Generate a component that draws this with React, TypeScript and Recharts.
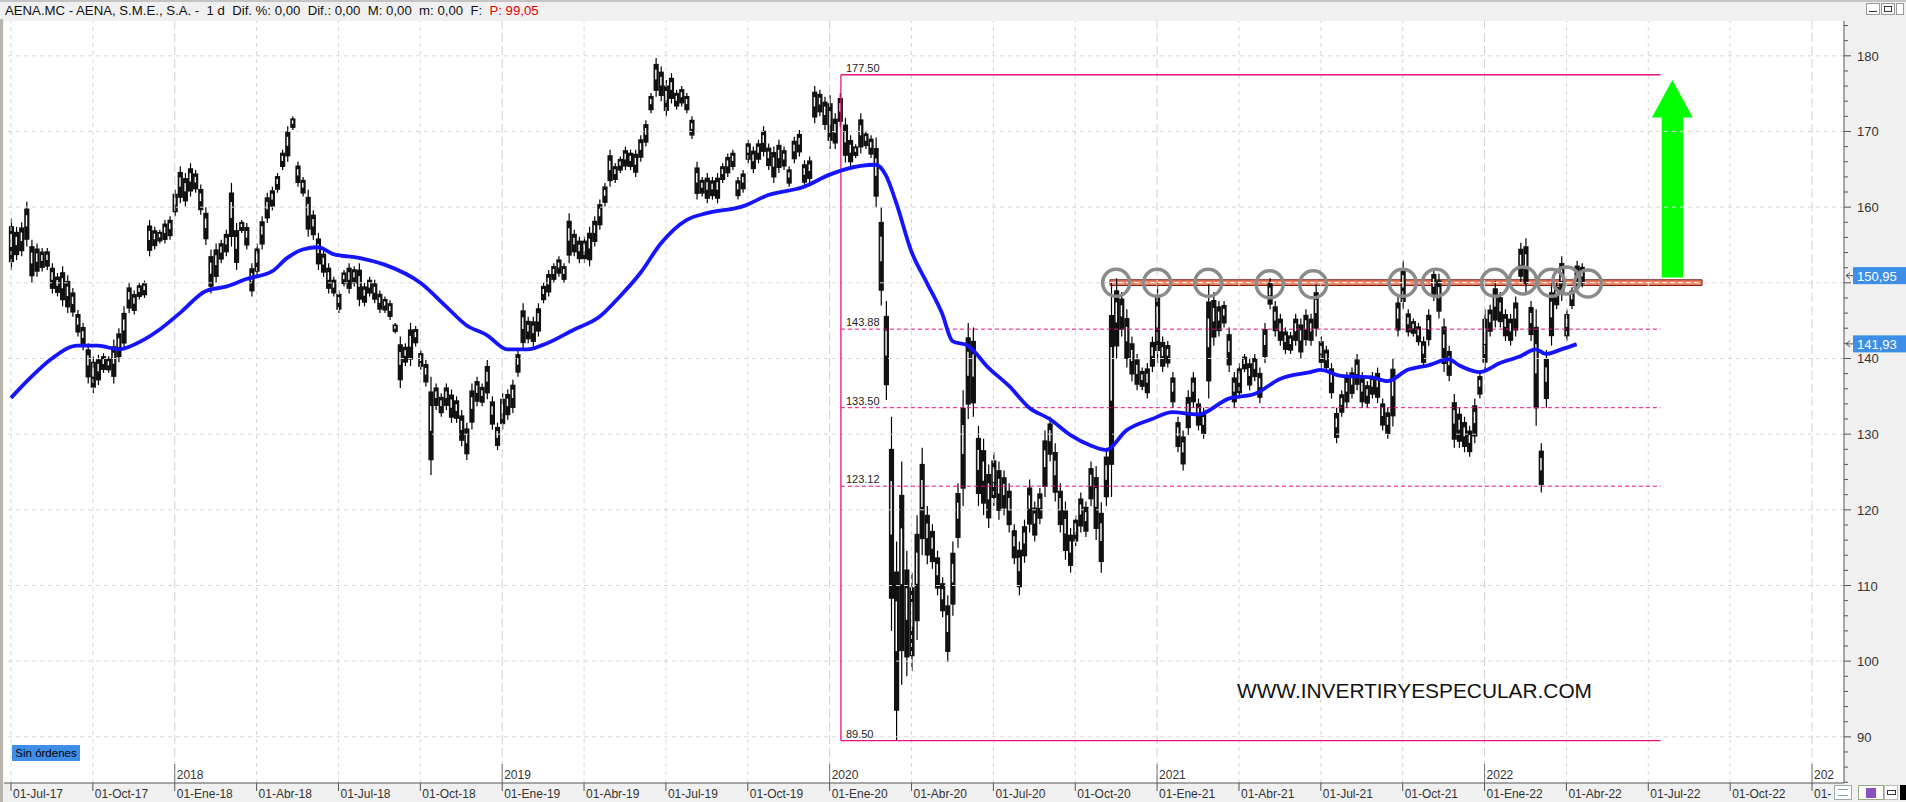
import React from 'react'
import {
  ComposedChart,
  Bar,
  Line,
  XAxis,
  YAxis,
  CartesianGrid,
  ReferenceLine,
  ReferenceArea,
  ReferenceDot,
} from 'recharts'

// one row = 4 sessions, 16 rows per quarter, row 0 = 01-Jul-17
const quarterTicks = [0, 16, 32, 48, 64, 80, 96, 112, 128, 144, 160, 176, 192, 208, 224, 240, 256, 272, 288, 304, 320, 336, 352]
const quarterLabels = [
  '01-Jul-17', '01-Oct-17', '01-Ene-18', '01-Abr-18', '01-Jul-18', '01-Oct-18', '01-Ene-19', '01-Abr-19',
  '01-Jul-19', '01-Oct-19', '01-Ene-20', '01-Abr-20', '01-Jul-20', '01-Oct-20', '01-Ene-21', '01-Abr-21',
  '01-Jul-21', '01-Oct-21', '01-Ene-22', '01-Abr-22', '01-Jul-22', '01-Oct-22', '01-',
]
const yearTicks = [32, 96, 160, 224, 288, 352]
const yearLabels = ['2018', '2019', '2020', '2021', '2022', '202']
// 150 sits under the last-price tag and is not visible
const priceLabels = [90, 100, 110, 120, 130, 140, 160, 170, 180]

// highs / lows per row, one line per quarter
const highs = [
  158.5, 157.4, 158, 160.7, 155.7, 155.2, 154.6, 154.6, 152.6, 151.3, 152.2, 151, 149.3, 146.4, 144.7, 142,
  140.3, 140.5, 140.7, 140.3, 142.5, 144, 146.9, 150, 149, 150, 150.3, 158.3, 157.4, 157, 158.3, 158.8,
  162.3, 165.4, 164.5, 165.8, 164.9, 163, 160, 154.4, 155.2, 155.7, 157, 163.2, 157.9, 158.3, 157.9, 152.6,
  155.2, 158.8, 161.9, 162.7, 164.5, 167.6, 170.7, 172, 166, 164, 162.3, 159.6, 156.6, 154.4, 152.6, 150.8,
  149, 151.7, 152.6, 152.2, 152.6, 150, 150.8, 150.4, 149, 148.2, 147.7, 144.7, 142.9, 142, 144.7, 144.3,
  141.1, 139.8, 137.6, 136.7, 135.4, 136.7, 135.9, 135, 133.2, 131.5, 136.7, 137.6, 136.7, 139.8, 135, 131.5,
  135.4, 135.9, 137.2, 141.1, 147.3, 145.5, 145.5, 147.3, 150, 151.7, 152.6, 153.5, 152.6, 159.2, 157, 156.1,
  156.1, 157.4, 158.8, 161, 163.2, 167.6, 165.8, 166.7, 168, 167.6, 167.6, 169.5, 171.5, 175.1, 179.7, 178.6,
  176.8, 177.7, 175.5, 176, 175.1, 172, 166, 164, 164.5, 164, 164.5, 165.8, 167.1, 167.6, 164, 164.9,
  168.9, 168, 168.9, 170.7, 168.4, 168, 168.9, 168, 165.4, 169.3, 170.2, 166.2, 166.7, 176, 175.5, 174.6,
  174.8, 172.4, 175.1, 171.8, 169.5, 168.3, 172.4, 170.1, 169.5, 169.2, 160, 147.6, 132.3, 115.8, 126.4, 114.6,
  111.7, 119.3, 128.2, 120.5, 118.1, 114.6, 111.1, 108.7, 115.8, 123.5, 135.8, 144.7, 144.1, 131.1, 129.4, 126,
  127.6, 126.4, 125.2, 123.5, 118.1, 115.8, 118.7, 124, 121.1, 122.9, 130.5, 132.3, 128.8, 123.5, 121.1, 117.6,
  119.3, 122.3, 121.1, 126.4, 125.8, 121, 128.2, 150, 150.6, 148.8, 146.5, 142.9, 140.6, 138.8, 139.4, 142.9,
  150, 142.9, 142.3, 138.2, 132.3, 130.5, 135.8, 138.2, 134.7, 133.5, 149.8, 148.8, 147.6, 147.6, 144.1, 138.2,
  139.4, 140.6, 140, 140.6, 138.8, 144.7, 150.6, 147.6, 145.9, 144.1, 143.5, 145.9, 145.3, 146.5, 145.9, 149.8,
  142.9, 141.7, 139.4, 133.5, 135.8, 138.2, 138.8, 140.6, 138.2, 137, 138.2, 138.8, 134.7, 133.5, 140, 148.2,
  152.9, 146.5, 145.3, 144.7, 142.9, 146.5, 151.8, 151.2, 145.3, 141.7, 135.3, 133.5, 132.3, 131.1, 134.7, 138.2,
  146.5, 147.1, 150.2, 148.8, 146.5, 145.9, 148.2, 155.3, 155.9, 147.6, 146.5, 128.8, 141.1, 150, 150, 153.5,
  146.5, 149.4, 152.9, 152.6,
]
const lows = [
  151.7, 153, 153.5, 154.8, 150, 150.8, 151.5, 151.7, 148.6, 148.2, 146.9, 146, 145.5, 142.9, 141.1, 136.7,
  135.4, 136.5, 138.1, 138.1, 136.7, 139.5, 141.1, 146, 145.8, 147.8, 148, 153.5, 154.4, 155.2, 155.2, 155.7,
  158.8, 160.5, 160.1, 161.4, 161.9, 159, 155, 148.6, 150, 152.6, 153.5, 154.8, 151.7, 156.6, 154.4, 148.2,
  150.8, 154.4, 157.9, 159.6, 161.9, 164.9, 166, 170.2, 162.7, 161.4, 156.1, 155.7, 151.7, 150.8, 148.6, 148.2,
  146, 149.5, 148.6, 149.5, 146.9, 146.9, 148.2, 147.3, 146, 146, 145.1, 143.3, 136.1, 139, 139, 141.6,
  138.5, 136.3, 124.6, 133.2, 132.3, 133.2, 131.5, 131.5, 128.4, 126.6, 130.6, 133.7, 133.7, 134.6, 130.6, 127.9,
  130.6, 131.9, 132.8, 137.6, 141.1, 142, 141.6, 142.9, 147.3, 148.2, 150, 150.8, 150, 152.6, 153.5, 152.6,
  152.6, 152.2, 154.8, 157, 160.1, 162.7, 163.2, 164.5, 164.9, 164.9, 164, 166, 168, 172.4, 174.6, 174,
  172, 173.7, 172.9, 173.3, 172.4, 169, 161, 161.4, 160.5, 161, 160.5, 163.2, 164, 164.9, 161, 161.9,
  165.8, 164.5, 165.8, 166.7, 164.9, 163.2, 164.5, 164.9, 162.7, 165.8, 166.7, 162.7, 163.2, 171.1, 172, 170.2,
  167.7, 167.7, 170.6, 165.9, 165.3, 166.5, 167.1, 167.7, 166.5, 160, 147, 134.5, 104, 89.5, 96.9, 98,
  98.7, 102.8, 114, 112.8, 112.2, 108.7, 105.8, 99.9, 106, 115, 120.5, 132, 132.3, 120.5, 119.3, 117.6,
  120.5, 118.7, 119.3, 117, 112.8, 108.7, 113, 117, 115.8, 118.1, 121.7, 126.4, 121.1, 117, 113.4, 111.7,
  115.2, 117, 116.4, 120.5, 116, 111.7, 120.5, 121.7, 140, 142.9, 138.8, 137, 135.8, 135.8, 134.7, 138.2,
  139.4, 138.2, 138.8, 133.5, 127.6, 125.2, 129.9, 133.5, 130.5, 129.4, 134.7, 141.7, 142.9, 144.1, 138.2, 133.5,
  134.7, 138.2, 135.8, 137, 134.1, 139.4, 146.5, 142.9, 141.7, 140.6, 140.6, 141.7, 140, 141.7, 141.7, 142.9,
  138.8, 138.2, 134.7, 128.8, 132.3, 133.5, 134.7, 135.8, 133.5, 133.5, 134.7, 134.1, 130.5, 129.4, 131, 142.9,
  146.5, 142.9, 142.9, 141.7, 138.8, 141.7, 147.6, 145.3, 138.2, 137, 128.2, 128.2, 127.6, 127, 128.8, 134.7,
  138.2, 142.9, 144.1, 144.1, 142.3, 141.7, 142.9, 150, 148.8, 142.3, 131.1, 122.3, 133.5, 141.7, 146.5, 147.6,
  142.3, 146.5, 148.8, 149.4,
]

// blue moving average, read at these rows
const maRows = [
  0, 4, 8, 13, 17, 21, 26, 29, 33, 38, 42, 46, 51, 54, 57, 60, 63, 68, 73, 80, 85, 89, 93, 97, 101, 104, 110,
  115, 119, 123, 127, 132, 136, 143, 148, 155, 160, 163, 169, 171, 173, 176, 179, 182, 184, 187, 191, 195, 199,
  203, 207, 211, 214, 218, 223, 227, 232, 238, 243, 248, 254, 256, 260, 266, 269, 273, 277, 281, 283, 287, 291,
  295, 298, 300, 303, 306,
]
const maValues = [
  134.8, 137.6, 140, 141.7, 141.7, 141.2, 142.5, 143.8, 146, 148.9, 149.5, 150.5, 151.5, 153.3, 154.4, 154.7,
  153.8, 153.3, 152.4, 150, 146.9, 144.4, 143.1, 141.2, 141.2, 141.8, 143.8, 145.5, 148.2, 151.3, 155.2, 158.3,
  159.2, 160.1, 161.6, 162.7, 164.3, 165, 165.6, 164.2, 160.6, 154.1, 150, 145.9, 142.3, 141.7, 138.8, 136.4,
  133.5, 132, 129.9, 128.5, 127.9, 130.5, 132, 132.9, 132.6, 134.7, 135.3, 137.3, 138.2, 138.5, 137.7, 137.5,
  137, 138.5, 139.1, 139.9, 139.1, 138.2, 139.4, 140.3, 141.2, 140.6, 141.2, 141.9,
]

// retracement levels and the touches of the 150 line
const fibLevels = [177.5, 143.88, 133.5, 123.12, 89.5]
const fibText = ['177.50', '143.88', '133.50', '123.12', '89.50']
const touchRows = [216, 224, 234, 246, 254.5, 272, 278.5, 290, 295.5, 301, 304, 308.2]
const touchPrices = [150, 150, 150, 149.8, 149.8, 150, 150, 150, 150.3, 150, 150.3, 149.9]
const lastClose = 150.95
const lastAverage = 141.93

const data = highs.map((h, i) => {
  const k = maRows.indexOf(i)
  return { i, hl: [lows[i], h], ma: k >= 0 ? maValues[k] : undefined }
})

const FONT = '"Liberation Sans", Arial, sans-serif'
const MAGENTA = '#ec0f7c'
const GRID = '#d6d6d6'
const X_DOMAIN = [-1.37, 358.25]
const Y_DOMAIN = [83.9, 184.6]

const Candle = (props: any) => {
  const { x, y, width, height } = props
  if (x == null || y == null) return null
  const top = Math.min(y, y + height)
  const h = Math.abs(height)
  const cx = x + width / 2
  return (
    <g>
      <line x1={cx} x2={cx} y1={top} y2={top + h} stroke="#000" strokeWidth={1.2} />
      <rect x={cx - 2.6} y={top + h * 0.15} width={5.2} height={h * 0.7} fill="#111" />
      <rect x={cx - 1} y={top + h * 0.3} width={1.4} height={h * 0.25} fill="#ffffff" />
    </g>
  )
}

const XTick = (props: any) => {
  const { x, y, payload } = props
  const k = quarterTicks.indexOf(payload.value)
  const yk = yearTicks.indexOf(payload.value)
  return (
    <g fontFamily={FONT} fontSize={12} fill="#333">
      <line x1={x} x2={x} y1={y} y2={y + 8} stroke="#555" />
      <text x={x + 2} y={y + 15}>{quarterLabels[k]}</text>
      {yk >= 0 && (
        <g>
          <line x1={x} x2={x} y1={y - 19} y2={y} stroke="#777" />
          <text x={x + 2} y={y - 4}>{yearLabels[yk]}</text>
        </g>
      )}
    </g>
  )
}

const YTick = (props: any) => {
  const { x, y, payload } = props
  const major = payload.value % 10 === 0
  return (
    <g>
      <line x1={x} x2={x + (major ? 7 : 4)} y1={y} y2={y} stroke="#555" />
      {priceLabels.includes(payload.value) && (
        <text x={x + 13} y={y + 5} fontFamily={FONT} fontSize={13} fill="#333">
          {payload.value}
        </text>
      )}
    </g>
  )
}

const FibLabel = (props: any) => {
  const { viewBox, text } = props
  return (
    <text x={viewBox.x + 5} y={viewBox.y - 3} fontFamily={FONT} fontSize={11} fill="#222">
      {text}
    </text>
  )
}

const PriceTag = (props: any) => {
  const { viewBox, text } = props
  const x = viewBox.x + viewBox.width
  const y = viewBox.y
  return (
    <g>
      <path d={`M${x + 2},${y} h7 M${x + 2},${y} l4,-3 M${x + 2},${y} l4,3`} stroke="#555" fill="none" />
      <rect x={x + 9} y={y - 8.5} width={53} height={17} fill="#3d8ee6" />
      <text x={x + 13} y={y + 5} fontFamily={FONT} fontSize={13} fill="#fff">
        {text}
      </text>
    </g>
  )
}

const Arrow = (props: any) => {
  const { x, y, width, height } = props
  const cx = x + width / 2
  const head = height * 0.19
  const sw = width * 0.26
  const pts = [
    [cx, y],
    [x + width, y + head],
    [cx + sw, y + head],
    [cx + sw, y + height],
    [cx - sw, y + height],
    [cx - sw, y + head],
    [x, y + head],
  ]
  return <polygon points={pts.map((p) => p.join(',')).join(' ')} fill="#00ff00" />
}

const iconBox = (left: number, w: number, border: string, inner: React.ReactNode) => (
  <div
    style={{
      position: 'absolute', left, top: 785, width: w, height: 15, border: `1px solid ${border}`,
      background: '#ffffff', boxSizing: 'border-box', display: 'flex', alignItems: 'center', justifyContent: 'center',
    }}
  >
    {inner}
  </div>
)

export default function App() {
  const hLines = [90, 100, 110, 120, 130, 140, 150, 160, 170, 180]
  return (
    <div style={{ position: 'fixed', left: 0, top: 0, width: 1906, height: 802, background: '#f0f0f0', overflow: 'hidden' }}>
      <div
        style={{
          position: 'absolute', left: 0, top: 0, width: 1906, height: 19, background: '#f0f0f0',
          borderTop: '2px solid #c4c4c4', boxSizing: 'border-box', fontFamily: FONT, fontSize: 13.2,
          lineHeight: '17px', paddingLeft: 5, color: '#111', whiteSpace: 'pre',
        }}
      >
        {'AENA.MC - AENA, S.M.E., S.A. -  1 d  Dif. %: 0,00  Dif.: 0,00  M: 0,00  m: 0,00  F:  '}
        <span style={{ color: '#e00000' }}>P: 99,05</span>
      </div>
      <div style={{ position: 'absolute', right: 2, top: 3, display: 'flex', gap: 1 }}>
        <div style={{ width: 12, height: 10, background: '#fff', border: '1px solid #999', position: 'relative' }}>
          <div style={{ position: 'absolute', left: 2, right: 2, bottom: 2, height: 1, background: '#333' }} />
        </div>
        <div style={{ width: 12, height: 10, background: '#fff', border: '1px solid #999', position: 'relative' }}>
          <div style={{ position: 'absolute', left: 2, right: 2, top: 2, bottom: 2, border: '1px solid #333' }} />
        </div>
        <div style={{ width: 6, height: 10, background: '#fff', border: '1px solid #999' }} />
      </div>

      <div style={{ position: 'absolute', left: 0, top: 19 }}>
        <ComposedChart width={1906} height={783} data={data} margin={{ top: 2, right: 0, left: 4, bottom: 0 }}>
          <CartesianGrid fill="#ffffff" horizontal={false} vertical={false} />
          {hLines.map((v) => (
            <ReferenceLine key={'h' + v} y={v} stroke={GRID} strokeDasharray="4 4" />
          ))}
          {quarterTicks.map((t) => (
            <ReferenceLine
              key={'v' + t}
              x={t}
              stroke={yearTicks.includes(t) ? '#cfcfcf' : GRID}
              strokeDasharray={yearTicks.includes(t) ? '9 4' : '4 4'}
            />
          ))}
          <XAxis
            type="number"
            dataKey="i"
            domain={X_DOMAIN}
            allowDataOverflow
            ticks={quarterTicks}
            interval={0}
            tick={(p: any) => <XTick {...p} />}
            tickLine={false}
            tickSize={0}
            tickMargin={0}
            height={19}
            axisLine={{ stroke: '#555' }}
          />
          <YAxis
            type="number"
            orientation="right"
            domain={Y_DOMAIN}
            allowDataOverflow
            ticks={Array.from({ length: 51 }, (_, k) => 84 + 2 * k)}
            interval={0}
            tick={(p: any) => <YTick {...p} />}
            tickLine={false}
            tickSize={0}
            tickMargin={0}
            width={62}
            axisLine={{ stroke: '#555' }}
          />
          <ReferenceLine
            segment={[{ x: 162.2, y: 177.5 }, { x: 162.2, y: 89.5 }]}
            stroke={MAGENTA}
            strokeWidth={1.3}
          />
          {fibLevels.map((v, k) => (
            <ReferenceLine
              key={'f' + v}
              segment={[{ x: 162.2, y: v }, { x: 322.4, y: v }]}
              stroke={MAGENTA}
              strokeWidth={k === 0 || k === 4 ? 1.3 : 1}
              strokeDasharray={k === 0 || k === 4 ? undefined : '4 3'}
              label={<FibLabel text={fibText[k]} />}
            />
          ))}
          <ReferenceArea x1={214.8} x2={330.5} y1={149.65} y2={150.4} fill="#f2805e" fillOpacity={1} stroke="#7d1a14" strokeWidth={1} />
          <ReferenceLine segment={[{ x: 214.8, y: 150.03 }, { x: 330.5, y: 150.03 }]} stroke="#ffffff" strokeDasharray="4 4" />
          <Bar dataKey="hl" barSize={4} shape={Candle} isAnimationActive={false} />
          <Line
            dataKey="ma"
            type="monotone"
            stroke="#1414ff"
            strokeWidth={3.8}
            dot={false}
            connectNulls
            isAnimationActive={false}
          />
          {touchRows.map((r, k) => (
            <ReferenceDot key={'c' + k} x={r} y={touchPrices[k]} r={13.5} fill="none" stroke="#8a8a8a" strokeWidth={3.5} />
          ))}
          <ReferenceArea x1={320.7} x2={328.7} y1={150.7} y2={176.8} shape={Arrow} />
        </ComposedChart>
      </div>

      {/* same scales again, on top, so the last-value tags cover the axis labels */}
      <div style={{ position: 'absolute', left: 0, top: 19, pointerEvents: 'none' }}>
        <ComposedChart width={1906} height={783} data={data} margin={{ top: 2, right: 62, left: 4, bottom: 19 }}>
          <XAxis type="number" dataKey="i" domain={X_DOMAIN} allowDataOverflow hide />
          <YAxis type="number" domain={Y_DOMAIN} allowDataOverflow hide />
          <ReferenceLine y={lastClose} stroke="none" label={<PriceTag text="150,95" />} />
          <ReferenceLine y={lastAverage} stroke="none" label={<PriceTag text="141,93" />} />
        </ComposedChart>
      </div>

      <div style={{ position: 'absolute', left: 0, top: 19, width: 3, height: 783, background: '#b9b4ac' }} />

      <svg style={{ position: 'absolute', left: 1236, top: 676 }} width={360} height={28}>
        <text x={1} y={22} fontFamily='"Liberation Sans Narrow", "Liberation Sans", Arial' fontSize={21} textLength={355} lengthAdjust="spacingAndGlyphs" fill="#111">
          WWW.INVERTIRYESPECULAR.COM
        </text>
      </svg>
      <div
        style={{
          position: 'absolute', left: 12, top: 745, width: 68, height: 16, background: '#3f8fe8',
          fontFamily: FONT, fontSize: 11.5, lineHeight: '16px', textAlign: 'center', color: '#000',
        }}
      >
        Sin órdenes
      </div>

      {iconBox(1834, 18, '#9aa', <div style={{ width: 10, height: 5, borderTop: '1px solid #7aa', borderBottom: '1px solid #7aa' }} />)}
      {iconBox(1858, 26, '#9a8', <div style={{ width: 10, height: 10, background: '#8a4fc0' }} />)}
      {iconBox(1884, 14, '#bbb', <div style={{ width: 7, height: 3, border: '1px solid #333' }} />)}
      <div style={{ position: 'absolute', left: 1900, top: 785, width: 6, height: 15, background: '#000' }} />
    </div>
  )
}
